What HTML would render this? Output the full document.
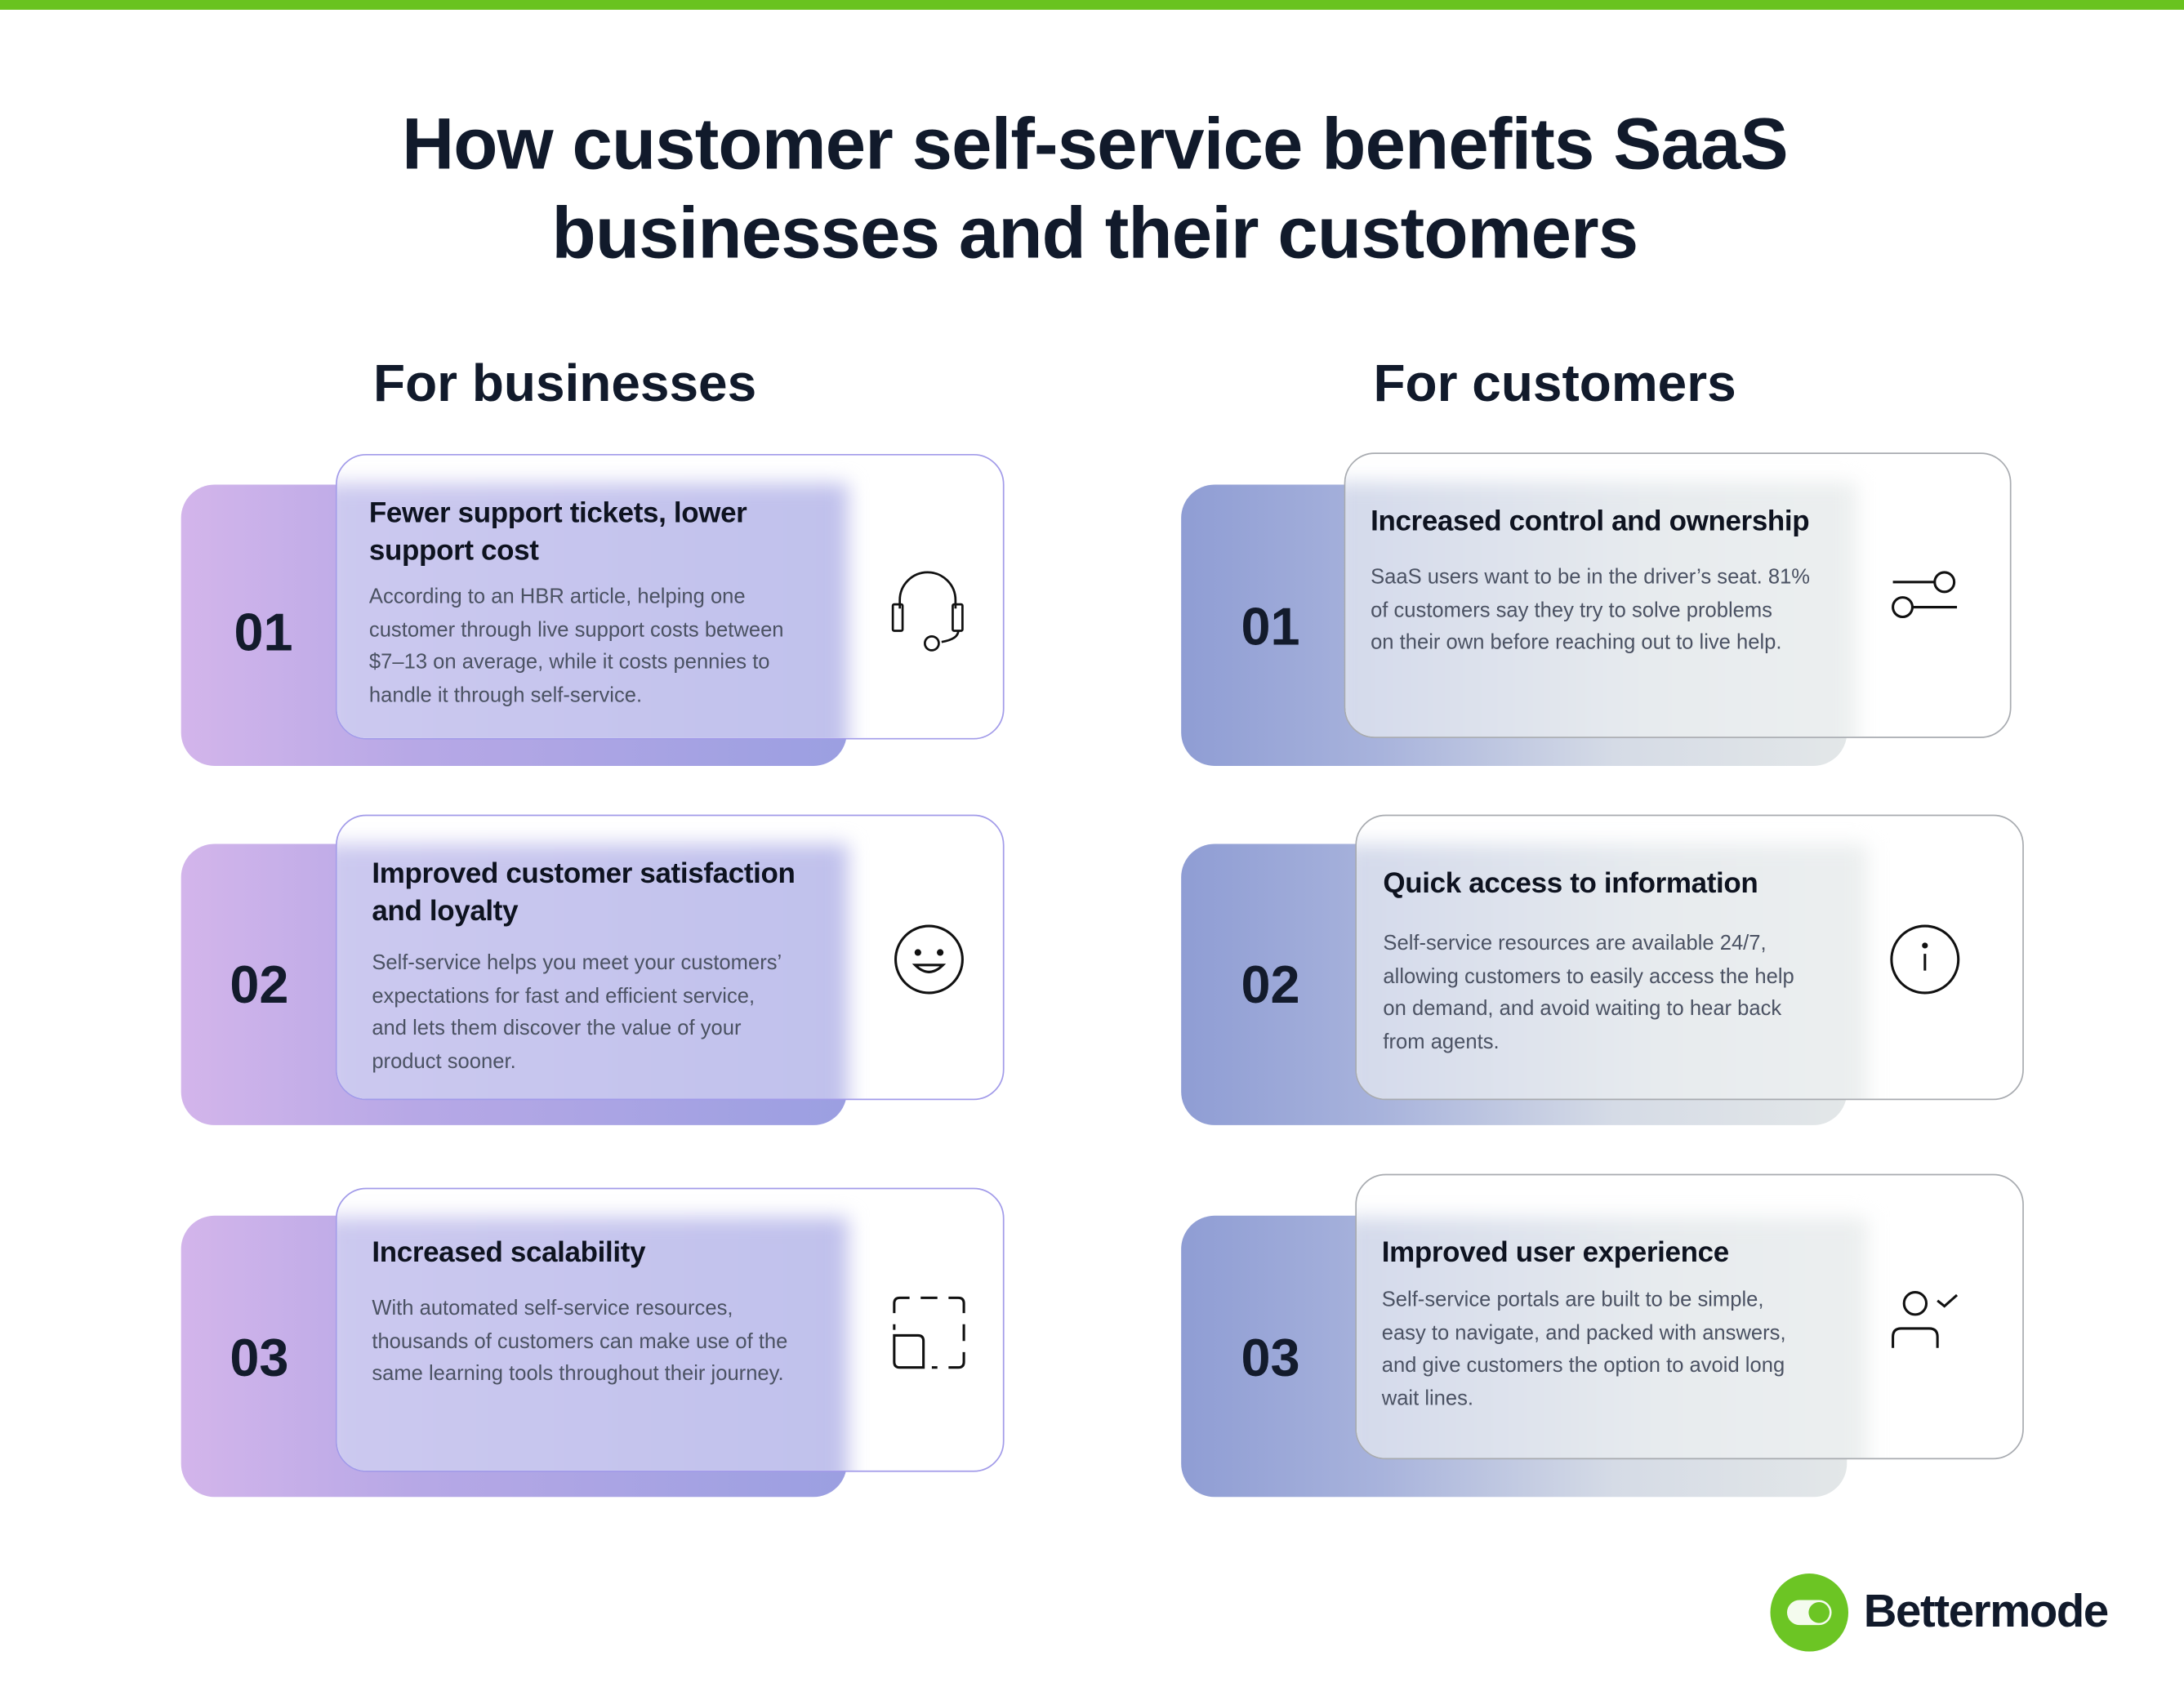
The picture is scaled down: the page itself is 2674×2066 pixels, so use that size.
<!DOCTYPE html>
<html><head><meta charset="utf-8">
<style>
html,body{margin:0;padding:0;background:#fff;}
body{width:2674px;height:2066px;overflow:hidden;position:relative;font-family:"Liberation Sans",sans-serif;}
#s{position:absolute;left:0;top:0;width:1568px;height:1211px;transform:scale(1.70536);transform-origin:0 0;}
.bar{position:absolute;left:0;top:0;width:1568px;height:6.5px;background:#69c31f;}
.title{position:absolute;left:0;width:1572px;top:72px;text-align:center;font-weight:bold;font-size:52px;line-height:64px;color:#111a2b;letter-spacing:-0.5px;}
.sec{position:absolute;font-weight:bold;font-size:37.5px;color:#111a2b;top:254px;}
.back{position:absolute;width:478px;height:202px;border-radius:24px;}
.bl{background:linear-gradient(90deg,#d3b5eb 0%,#b7a8e6 35%,#9b9fe1 100%);}
.br{background:linear-gradient(90deg,#8f9dd4 0%,#a8b3dc 30%,#d5dbe6 65%,#e3e7e8 100%);}
.num{position:absolute;font-weight:bold;font-size:38px;color:#131b2c;}
.front{position:absolute;width:478px;height:203px;border-radius:22px;background:#fff;overflow:hidden;box-sizing:border-box;}
.fl{border:1.5px solid #a29be9;}
.fr{border:1.5px solid #a8abb0;}
.frost{position:absolute;left:-10px;top:20px;width:377px;height:210px;filter:blur(7px);}
.frl{background:linear-gradient(90deg,#ccc9ef,#c0c1ec);}
.frr{background:linear-gradient(90deg,#d3d9eb,#e7ebee 60%,#ecefef);}
.txt{position:absolute;left:23px;width:360px;white-space:nowrap;}
.h{font-weight:bold;font-size:20.5px;line-height:27px;color:#0e1320;letter-spacing:-0.2px;}
.p{font-size:15px;line-height:23.5px;color:#4b5263;}
.ic{position:absolute;}
</style></head><body><div id="s">
<div class="bar"></div>
<div class="title">How customer self-service benefits SaaS<br>businesses and their customers</div>
<div class="sec" style="left:268px">For businesses</div>
<div class="sec" style="left:986px">For customers</div>

<div class="back bl" style="left:130px;top:348px"></div>
<div class="num" style="left:168px;top:434px">01</div>
<div class="front fl" style="left:241px;top:326px;width:480px;height:205px">
 <div class="frost frl"></div>
 <div class="txt" style="top:28px"><div class="h">Fewer support tickets, lower<br>support cost</div>
 <div class="p" style="margin-top:8px">According to an HBR article, helping one<br>customer through live support costs between<br>$7–13 on average, while it costs pennies to<br>handle it through self-service.</div></div>
 <svg class="ic" style="left:396px;top:80px" width="60" height="62" viewBox="0 0 60 62" fill="none" stroke="#111" stroke-width="1.6"><path d="M8 30 V24 A20 20 0 0 1 48 24 V30"/><rect x="3" y="27" width="7" height="19" rx="1"/><rect x="46" y="27" width="7" height="19" rx="1"/><path d="M50 46 Q50 52 38 54"/><ellipse cx="31" cy="55" rx="5" ry="5"/></svg>
</div>

<div class="back bl" style="left:130px;top:606px"></div>
<div class="num" style="left:165px;top:687px">02</div>
<div class="front fl" style="left:241px;top:585px;width:480px;height:205px">
 <div class="frost frl"></div>
 <div class="txt" style="top:28px;left:25px"><div class="h">Improved customer satisfaction<br>and loyalty</div>
 <div class="p" style="margin-top:12px">Self-service helps you meet your customers’<br>expectations for fast and efficient service,<br>and lets them discover the value of your<br>product sooner.</div></div>
 <svg class="ic" style="left:398px;top:76px" width="54" height="54" viewBox="0 0 54 54" fill="none" stroke="#111" stroke-width="1.8"><circle cx="27" cy="27" r="24"/><circle cx="19" cy="22" r="1.5" fill="#111"/><circle cx="35" cy="22" r="1.5" fill="#111"/><path d="M17 31 Q27 41 37 31 Z"/></svg>
</div>

<div class="back bl" style="left:130px;top:873px"></div>
<div class="num" style="left:165px;top:955px">03</div>
<div class="front fl" style="left:241px;top:853px;width:480px;height:204px">
 <div class="frost frl"></div>
 <div class="txt" style="top:32px;left:25px"><div class="h">Increased scalability</div>
 <div class="p" style="margin-top:15px">With automated self-service resources,<br>thousands of customers can make use of the<br>same learning tools throughout their journey.</div></div>
 <svg class="ic" style="left:397px;top:75px" width="56" height="56" viewBox="0 0 56 56" fill="none" stroke="#111" stroke-width="1.8"><path d="M3 14 V7 Q3 3 7 3 H14 M22 3 H34 M42 3 H49 Q53 3 53 7 V14 M53 22 V34 M53 42 V49 Q53 53 49 53 H42 M34 53 H30 M3 22 V26"/><path d="M3 30 H20 Q24 30 24 34 V53 H7 Q3 53 3 49 Z"/></svg>
</div>

<div class="back br" style="left:848px;top:348px"></div>
<div class="num" style="left:891px;top:430px">01</div>
<div class="front fr" style="left:965px;top:325px;width:479px;height:205px">
 <div class="frost frr"></div>
 <div class="txt" style="top:35px;left:18px"><div class="h">Increased control and ownership</div>
 <div class="p" style="margin-top:15px">SaaS users want to be in the driver’s seat. 81%<br>of customers say they try to solve problems<br>on their own before reaching out to live help.</div></div>
 <svg class="ic" style="left:391px;top:82px" width="50" height="40" viewBox="0 0 50 40" fill="none" stroke="#111" stroke-width="1.8"><path d="M2 10 H32"/><circle cx="39" cy="10" r="7"/><circle cx="9" cy="28" r="7"/><path d="M16 28 H48"/></svg>
</div>

<div class="back br" style="left:848px;top:606px"></div>
<div class="num" style="left:891px;top:687px">02</div>
<div class="front fr" style="left:973px;top:585px;width:480px;height:205px">
 <div class="frost frr"></div>
 <div class="txt" style="top:35px;left:19px"><div class="h">Quick access to information</div>
 <div class="p" style="margin-top:18px">Self-service resources are available 24/7,<br>allowing customers to easily access the help<br>on demand, and avoid waiting to hear back<br>from agents.</div></div>
 <svg class="ic" style="left:381px;top:76px" width="54" height="54" viewBox="0 0 54 54" fill="none" stroke="#111" stroke-width="1.8"><circle cx="27" cy="27" r="24"/><path d="M27 23 V35"/><circle cx="27" cy="17" r="1.2" fill="#111"/></svg>
</div>

<div class="back br" style="left:848px;top:873px"></div>
<div class="num" style="left:891px;top:955px">03</div>
<div class="front fr" style="left:973px;top:843px;width:480px;height:205px">
 <div class="frost frr" style="top:30px"></div>
 <div class="txt" style="top:42px;left:18px"><div class="h">Improved user experience</div>
 <div class="p" style="margin-top:9px">Self-service portals are built to be simple,<br>easy to navigate, and packed with answers,<br>and give customers the option to avoid long<br>wait lines.</div></div>
 <svg class="ic" style="left:381px;top:78px" width="56" height="50" viewBox="0 0 56 50" fill="none" stroke="#111" stroke-width="1.8"><circle cx="20" cy="14" r="8"/><path d="M4 46 V38 Q4 32 10 32 H30 Q36 32 36 38 V46"/><path d="M36 12 L41 16 L50 8"/></svg>
</div>

<svg style="position:absolute;left:1270px;top:1129px" width="58" height="58" viewBox="0 0 58 58"><circle cx="29" cy="29" r="28" fill="#6cc524"/><rect x="13" y="20" width="32" height="18" rx="9" fill="#f4fbee"/><circle cx="36" cy="29" r="7.5" fill="#6cc524"/></svg>
<div style="position:absolute;left:1338px;top:1138px;font-weight:bold;font-size:33px;color:#111a2b;letter-spacing:-0.8px">Bettermode</div>
</div></body></html>
